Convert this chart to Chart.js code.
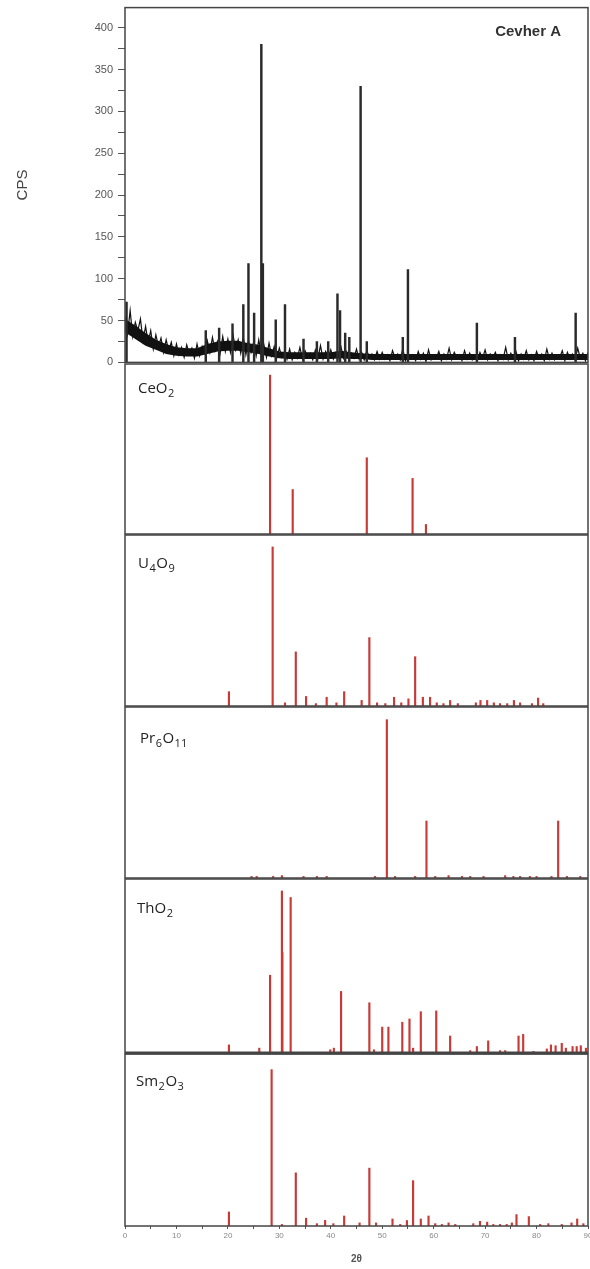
<!DOCTYPE html>
<html>
<head>
<meta charset="utf-8">
<script src="https://cdn.jsdelivr.net/npm/chart.js@4.4.1/dist/chart.umd.min.js"></script>
<style>
  html, body { margin: 0; padding: 0; background: #fff; }
  #wrap { position: relative; width: 590px; height: 1269px; overflow: hidden; }
  canvas { position: absolute; left: 0; }
</style>
</head>
<body>
<div id="wrap">
  <canvas id="chartCevher" width="600" height="378" style="top:-4px"></canvas>
  <canvas id="chartCeO2" width="600" height="176" style="top:361px"></canvas>
  <canvas id="chartU4O9" width="600" height="177" style="top:532px"></canvas>
  <canvas id="chartPr6O11" width="600" height="177" style="top:704px"></canvas>
  <canvas id="chartThO2" width="600" height="180" style="top:876px"></canvas>
  <canvas id="chartSm2O3" width="600" height="218" style="top:1051px"></canvas>
</div>
<script>
// Olculen desen (Cevher A), 0.5 derece adimla okunmus zemin
const scanStart = 0;
const scanStep = 0.5;
const scanCps = [
    55, 34, 62, 31, 48, 38, 52, 26, 43, 24, 38, 16, 33, 19, 29, 12, 27, 14, 24, 8,
    22, 9, 18, 6, 21, 10, 17, 5, 22, 8, 19, 11, 26, 12, 30, 14, 25, 11, 31, 13,
    28, 12, 33, 15, 27, 11, 30, 9, 26, 12, 24, 8, 27, 10, 21, 6, 23, 8, 19, 5,
    17, 6, 13, 4, 16, 3, 12, 5, 18, 4, 14, 7, 11, 3, 15, 5, 20, 4, 13, 6,
    15, 4, 12, 6, 18, 5, 13, 3, 11, 5, 16, 4, 12, 3, 14, 6, 10, 3, 13, 4,
    12, 4, 9, 2, 14, 5, 10, 3, 16, 2, 11, 6, 8, 2, 13, 4, 11, 1, 15, 3,
    9, 5, 13, 2, 10, 4, 17, 3, 12, 6, 9, 2, 14, 4, 11, 3, 8, 2, 12, 5,
    15, 3, 10, 6, 12, 2, 9, 4, 18, 3, 11, 5, 13, 2, 10, 4, 14, 3, 9, 2,
    13, 5, 10, 2, 16, 4, 11, 3, 9, 6, 14, 2, 12, 4, 10, 3, 17, 5, 11, 2,
    12
];
// zeminin yogun (siyah) bandi, 2 derece adimla
const bandStep = 2;
const bandLow = [36, 28, 20, 15, 10, 8, 7, 7, 10, 13, 14, 14, 12, 10, 7, 5, 4, 4, 4, 4,
    4, 5, 4, 4, 3, 3, 3, 3, 3, 3, 3, 3, 3, 3, 3, 3, 3, 3, 3, 3, 3, 3, 3, 3, 3, 3];
const bandHigh = [52, 44, 35, 27, 22, 18, 17, 17, 22, 25, 26, 26, 23, 21, 17, 13, 12, 12, 12, 12,
    12, 14, 12, 11, 10, 10, 10, 10, 10, 10, 10, 10, 10, 10, 10, 10, 10, 10, 10, 10, 10, 10, 10, 10, 10, 10];

const peakPos = [0.3, 15.7, 18.3, 20.9, 23.0, 24.0, 25.1, 26.5, 26.8, 29.3, 31.1, 34.7, 37.3,
    39.5, 41.3, 41.8, 42.8, 43.6, 45.8, 47.0, 54.0, 55.0, 68.4, 75.8, 87.6];
const peakCps = [72, 38, 41, 46, 69, 118, 59, 380, 118, 51, 69, 28, 25,
    25, 82, 62, 35, 30, 330, 25, 30, 111, 47, 30, 59];

const cpsTicks = [0, 50, 100, 150, 200, 250, 300, 350, 400];
const thetaTicks = [0, 10, 20, 30, 40, 50, 60, 70, 80, 90];

// Referans fazlar (goreli siddet, %)
const phaseNames = ['CeO2', 'U4O9', 'Pr6O11', 'ThO2', 'Sm2O3'];

const ceo2Pos = [28.2, 32.6, 47.0, 55.9, 58.5];
const ceo2Int = [100, 28, 48, 35, 6];

const u4o9Pos = [20.2, 28.7, 31.1, 33.2, 35.2, 37.1, 39.2, 41.1, 42.6, 46.0, 47.5, 49.0, 50.6, 52.3,
    53.7, 55.1, 56.4, 57.9, 59.3, 60.6, 61.9, 63.2, 64.7, 68.2, 69.1, 70.4, 71.7, 72.9, 74.3, 75.6,
    76.8, 79.1, 80.3, 81.3];
const u4o9Int = [9, 100, 2, 34, 6, 1.5, 5.5, 2, 9, 3.5, 43, 2, 1.5, 5.5,
    2, 4.5, 31, 5.5, 5.5, 2, 1.5, 3.5, 1.5, 2, 3.5, 3.5, 2, 1.5, 1.5, 3.5,
    2, 1.5, 5, 1.5];

const pr6o11Pos = [24.6, 25.6, 28.8, 30.5, 34.7, 37.3, 39.2, 48.6, 50.9, 52.5, 56.4, 58.6, 60.3,
    62.9, 65.5, 67.1, 69.7, 73.9, 75.5, 76.8, 78.7, 80.0, 82.9, 84.2, 85.9, 88.5];
const pr6o11Int = [1, 1, 1, 1.5, 1, 1, 1, 1, 100, 1, 1, 36, 1,
    1.5, 1, 1, 1, 1.5, 1, 1, 1, 1, 1, 36, 1, 1];

const tho2Pos = [20.2, 26.1, 28.2, 30.5, 30.6, 32.2, 39.9, 40.6, 42.0, 47.5, 48.4, 50.0, 51.2, 53.9,
    55.3, 56.0, 57.5, 60.5, 63.2, 67.1, 68.4, 70.6, 72.9, 73.9, 76.5, 77.4, 79.4, 82.0, 82.8,
    83.7, 84.9, 85.7, 87.0, 87.8, 88.6, 89.6];
const tho2Int = [5, 3, 48, 100, 62, 96, 2, 3, 38, 31, 2, 16, 16, 19,
    21, 3, 25.5, 26, 10.5, 1.5, 4, 7.5, 1.5, 1.5, 10.5, 11.5, 1, 2.5, 5,
    4.5, 6, 3, 4, 4, 4.5, 3];

const sm2o3Pos = [20.2, 28.5, 30.5, 33.2, 35.2, 37.3, 38.9, 40.5, 42.6, 45.6, 47.5, 48.8, 52.0, 53.5,
    54.8, 56.0, 57.5, 59.0, 60.3, 61.6, 62.9, 64.2, 67.7, 69.0, 70.4, 71.6, 72.9, 74.2, 75.2, 76.1,
    78.5, 80.7, 82.3, 84.9, 86.8, 87.9, 89.1];
const sm2o3Int = [9, 100, 1, 34, 5, 1.5, 3.6, 1.5, 6.4, 2, 37, 2, 4.5, 1,
    3.5, 29, 4.5, 6.4, 1.5, 1, 2, 1, 1.5, 3, 2.5, 1, 1, 1, 2, 7.3,
    6, 1, 1.5, 1, 2, 4.5, 1.5];

const stickColor = '#c93a36';

// cerceve + panel etiketi
function drawFormula(ctx, text, x, y) {
    ctx.fillStyle = '#222';
    ctx.textAlign = 'left';
    ctx.textBaseline = 'alphabetic';
    text.split(/(\d+)/).filter(Boolean).forEach(part => {
        const sub = /^\d+$/.test(part);
        ctx.font = sub ? '11px "Open Sans"' : '15px "Open Sans"';
        ctx.fillText(part, x, sub ? y + 4 : y);
        x += ctx.measureText(part).width + 0.5;
    });
}

const framePlugin = {
    id: 'frame',
    afterDraw(chart, args, o) {
        const { ctx, chartArea: a } = chart;
        ctx.save();
        ctx.strokeStyle = '#444';
        ctx.lineWidth = 1.5;
        ctx.strokeRect(a.left, a.top, a.right - a.left, a.bottom - a.top);
        if (o.thickBottom) {
            ctx.lineWidth = o.thickBottom;
            ctx.beginPath();
            ctx.moveTo(a.left, a.bottom);
            ctx.lineTo(a.right, a.bottom);
            ctx.stroke();
        }
        if (o.name) drawFormula(ctx, o.name, a.left + o.dx, a.top + o.dy);
        if (o.tag) {
            ctx.fillStyle = '#333';
            ctx.font = 'bold 15px "Liberation Sans"';
            ctx.textAlign = 'right';
            ctx.fillText(o.tag, a.right - 27, a.top + 28);
        }
        ctx.restore();
    }
};

const baseOptions = {
    responsive: false,
    animation: false,
    events: [],
    plugins: { legend: { display: false }, tooltip: { enabled: false } }
};

// Ust panel: olculen desen
new Chart(document.getElementById('chartCevher'), {
    type: 'line',
    data: {
        datasets: [
            {
                data: bandLow.map((v, i) => ({ x: i * bandStep, y: v })),
                borderWidth: 0,
                pointRadius: 0,
                order: 4
            },
            {
                data: bandHigh.map((v, i) => ({ x: i * bandStep, y: v })),
                borderWidth: 0,
                pointRadius: 0,
                fill: '-1',
                backgroundColor: '#111',
                order: 3
            },
            {
                data: scanCps.map((v, i) => ({ x: scanStart + i * scanStep, y: v })),
                borderColor: '#111',
                borderWidth: 1.2,
                pointRadius: 0,
                tension: 0,
                order: 2
            },
            {
                type: 'bar',
                data: peakPos.map((p, i) => ({ x: p, y: peakCps[i] })),
                backgroundColor: '#2a2a2a',
                barThickness: 1.8,
                grouped: false,
                order: 1
            }
        ]
    },
    options: {
        ...baseOptions,
        layout: { padding: { left: 10, right: 12, top: 11, bottom: 11 } },
        scales: {
            x: { type: 'linear', display: false, min: 0, max: 90, offset: false },
            y: {
                min: 0, max: 424,
                afterFit: s => { s.width = 115; },
                ticks: {
                    stepSize: 25, includeBounds: false, padding: 5,
                    color: '#555', font: { size: 11, family: 'Liberation Sans' },
                    callback: v => cpsTicks.includes(v) ? v : ''
                },
                grid: { drawOnChartArea: false, tickLength: 7, color: '#555' },
                border: { display: false },
                title: {
                    display: true, text: 'CPS', color: '#444',
                    font: { size: 15, family: 'Liberation Sans' },
                    padding: { top: 4, bottom: 0 }
                }
            }
        },
        plugins: { ...baseOptions.plugins, frame: { tag: 'Cevher A' } }
    },
    plugins: [framePlugin]
});

// Referans panelleri
function phaseChart(id, name, pos, int, cfg) {
    const isLast = !!cfg.axis;
    new Chart(document.getElementById(id), {
        type: 'bar',
        data: {
            datasets: [{
                data: pos.map((p, i) => ({ x: p, y: int[i] })),
                backgroundColor: stickColor,
                barThickness: 1.5,
                grouped: false
            }]
        },
        options: {
            ...baseOptions,
            layout: { padding: { left: 125, right: 12, top: 3, bottom: isLast ? 0 : 3 } },
            scales: {
                x: isLast ? {
                    type: 'linear', min: 0, max: 90, offset: false,
                    afterFit: s => { s.height = 43; },
                    ticks: {
                        stepSize: 5, autoSkip: false, maxRotation: 0, padding: 2,
                        color: '#888', font: { size: 8, family: 'Liberation Sans' },
                        callback: v => thetaTicks.includes(v) ? v : ''
                    },
                    grid: { drawOnChartArea: false, offset: false, tickLength: 3, color: '#555' },
                    border: { display: false },
                    title: {
                        display: true, text: '2θ', color: '#555',
                        font: { size: 10, weight: 'bold', family: 'Liberation Sans' },
                        padding: { top: 0, bottom: 4 }
                    }
                } : { type: 'linear', display: false, min: 0, max: 90, offset: false },
                y: { display: false, min: 0, max: cfg.yMax }
            },
            plugins: {
                ...baseOptions.plugins,
                frame: { name: name, dx: cfg.dx, dy: cfg.dy, thickBottom: cfg.thickBottom }
            }
        },
        plugins: [framePlugin]
    });
}

phaseChart('chartCeO2', phaseNames[0], ceo2Pos, ceo2Int, { yMax: 107, dx: 13, dy: 29 });
phaseChart('chartU4O9', phaseNames[1], u4o9Pos, u4o9Int, { yMax: 107.5, dx: 13, dy: 33 });
phaseChart('chartPr6O11', phaseNames[2], pr6o11Pos, pr6o11Int, { yMax: 108, dx: 15, dy: 36 });
phaseChart('chartThO2', phaseNames[3], tho2Pos, tho2Int, { yMax: 107.4, dx: 12, dy: 34, thickBottom: 3 });
phaseChart('chartSm2O3', phaseNames[4], sm2o3Pos, sm2o3Int, { yMax: 110, dx: 11, dy: 32, axis: true });
</script>
</body>
</html>
